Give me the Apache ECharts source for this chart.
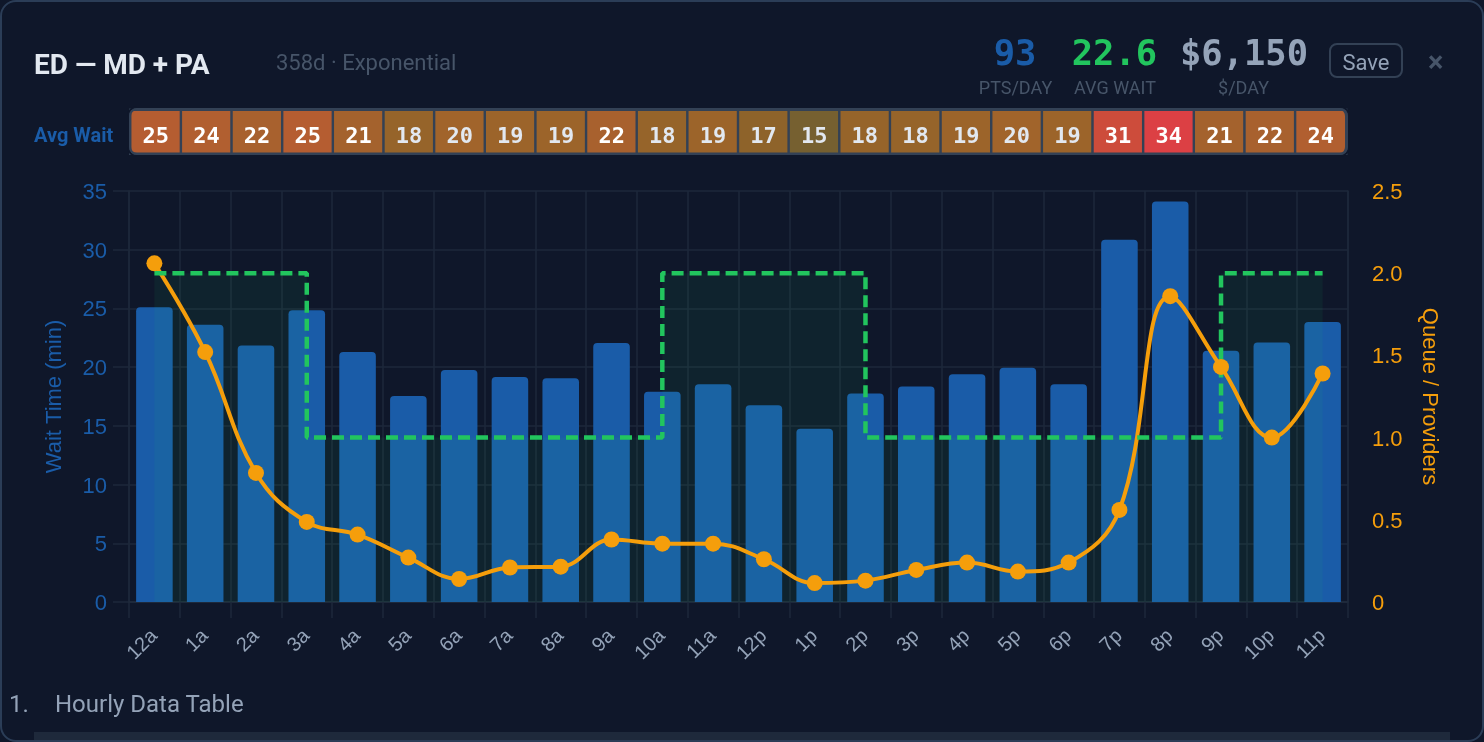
<!DOCTYPE html>
<html><head><meta charset="utf-8">
<script src="https://cdn.jsdelivr.net/npm/echarts@6/dist/echarts.min.js"></script>
<style>
html,body{margin:0;padding:0;width:1484px;height:742px;overflow:hidden;background:#0f172a;font-family:Roboto,sans-serif}
#card{position:absolute;left:0;top:0;width:1484px;height:742px;box-sizing:border-box;border:2px solid #2b3d57;border-radius:16px;pointer-events:none}
#chart{position:absolute;left:0;top:0;width:1484px;height:742px}
.t{position:absolute;white-space:nowrap;line-height:1}
.m{font-family:"DejaVu Sans Mono",monospace;font-weight:700;font-size:35.5px;transform:translateX(-50%)}
.l{font-size:18px;color:#475569;transform:translateX(-50%)}
#stripbg{position:absolute;left:129px;top:108px;width:1219px;height:47px;box-sizing:border-box;background:#334155;border-radius:8px}
#stripring{position:absolute;left:129px;top:108px;width:1219px;height:47px;box-sizing:border-box;border:2px solid #334155;border-right-width:3px;border-radius:8px;box-shadow:0 0 0 2px #0f172a}
#tbl{position:absolute;left:34px;top:732px;width:1416px;height:9px;background:#1e293b}
</style></head><body>
<div id="stripbg"></div>
<div id="chart"></div>
<div id="stripring"></div>
<div id="tbl"></div>
<div id="card"></div>
<div class="t" style="left:34px;top:51px;font-size:28px;font-weight:700;color:#e2e8f0">ED — MD + PA</div>
<div class="t" style="left:276px;top:52px;font-size:22px;color:#475569">358d · Exponential</div>
<div class="t" style="left:34px;top:125px;font-size:20px;font-weight:700;color:#1a5ca8">Avg Wait</div>
<div class="t m" style="left:1015px;top:35px;color:#1a5ca8">93</div>
<div class="t m" style="left:1114.5px;top:35px;color:#22c55e">22.6</div>
<div class="t m" style="left:1244px;top:35px;color:#94a3b8">$6,150</div>
<div class="t l" style="left:1015.5px;top:79px">PTS/DAY</div>
<div class="t l" style="left:1115px;top:79px">AVG WAIT</div>
<div class="t l" style="left:1243.5px;top:79px">$/DAY</div>
<div class="t" style="left:1329px;top:43px;width:74px;height:35px;box-sizing:border-box;border:2px solid #334155;border-radius:8px;color:#94a3b8;font-size:22px;line-height:35px;text-align:center">Save</div>
<div class="t" style="left:1428px;top:48px;font-size:29px;font-weight:700;color:#475569">×</div>
<div class="t" style="left:9px;top:692px;font-size:24px;color:#94a3b8">1.</div>
<div class="t" style="left:55px;top:692px;font-size:24px;color:#94a3b8">Hourly Data Table</div>
<script>
const hours = ['12a','1a','2a','3a','4a','5a','6a','7a','8a','9a','10a','11a','12p','1p','2p','3p','4p','5p','6p','7p','8p','9p','10p','11p'];
const waitMinutes = [25.1,23.6,21.85,24.85,21.3,17.55,19.75,19.15,19.05,22.05,17.9,18.55,16.75,14.75,17.75,18.35,19.4,19.95,18.55,30.85,34.1,21.4,22.1,23.85];
const queueRatio = [2.06,1.52,0.785,0.487,0.41,0.27,0.14,0.21,0.215,0.38,0.355,0.355,0.26,0.115,0.13,0.195,0.24,0.185,0.24,0.56,1.86,1.43,1.0,1.39];
const providers = [2,2,2,1,1,1,1,1,1,1,2,2,2,2,1,1,1,1,1,1,1,2,2,2];
const leftTicks = {min:0,max:35,interval:5};
const rightTicks = {min:0,max:2.5,interval:0.5};
const sans = '"Liberation Sans",Arial,sans-serif';
const mono = '"DejaVu Sans Mono",monospace';
const gridLine = {show:true,lineStyle:{color:'#1e293b',width:1.5}};
const chart = echarts.init(document.getElementById('chart'),null,{renderer:'canvas'});
chart.setOption({
  animation:false,
  backgroundColor:'transparent',
  grid:[
    {left:129,right:136,top:191,bottom:140},
    {left:130.5,width:1215.5,top:110,height:43.5}
  ],
  xAxis:[
    {type:'category',data:hours,gridIndex:0,boundaryGap:true,
     axisLine:{lineStyle:{color:'#1e293b',width:2}},
     axisTick:{show:true,length:16,alignWithLabel:false,lineStyle:{color:'#1e293b',width:1.5}},
     splitLine:gridLine,
     axisLabel:{color:'#94a3b8',fontSize:20,fontFamily:sans,rotate:45,margin:31,interval:0}},
    {type:'category',data:hours,gridIndex:1,show:false}
  ],
  yAxis:[
    {type:'value',gridIndex:0,...leftTicks,
     name:'Wait Time (min)',nameLocation:'middle',nameRotate:90,nameGap:63,
     nameTextStyle:{color:'#1a5ca8',fontSize:22,fontFamily:sans},
     axisLine:{show:true,lineStyle:{color:'#1e293b',width:1.5}},
     axisTick:{show:true,length:16,lineStyle:{color:'#1e293b',width:1.5}},
     splitLine:gridLine,
     axisLabel:{margin:22,formatter:v=>'{a|'+v+'}',
       rich:{a:{color:'#1a5ca8',fontSize:22,fontFamily:sans,padding:[4,0,0,0]}}}},
    {type:'value',gridIndex:0,position:'right',...rightTicks,
     name:'Queue / Providers',nameLocation:'middle',nameRotate:-90,nameGap:70,
     nameTextStyle:{color:'#f59e0b',fontSize:22,fontFamily:sans},
     axisLine:{show:true,lineStyle:{color:'#1e293b',width:1.5}},
     axisTick:{show:false},splitLine:{show:false},
     axisLabel:{margin:24,formatter:v=>'{a|'+(v===0?'0':v.toFixed(1))+'}',
       rich:{a:{color:'#f59e0b',fontSize:22,fontFamily:sans,padding:[4,0,0,0]}}}},
    {type:'category',data:['Avg Wait'],gridIndex:1,show:false}
  ],
  visualMap:{show:false,seriesIndex:3,dimension:2,min:15,max:34,
    inRange:{color:['#766030','#926429','#a0642b','#a8612e','#b45e31','#bb5a33','#c45238','#d04a3c','#dc4044']}},
  series:[
    {name:'Wait Time',type:'bar',xAxisIndex:0,yAxisIndex:0,data:waitMinutes,barWidth:'72%',
     itemStyle:{color:'#1a5ca8',borderRadius:[4,4,0,0]}},
    {name:'Queue',type:'line',xAxisIndex:0,yAxisIndex:1,data:queueRatio,smooth:0.4,
     symbol:'circle',symbolSize:16,showSymbol:true,
     lineStyle:{color:'#f59e0b',width:4},itemStyle:{color:'#f59e0b'}},
    {name:'Providers',type:'line',xAxisIndex:0,yAxisIndex:1,data:providers,step:'end',
     symbol:'none',lineStyle:{color:'#22c55e',width:4.5,type:[12,6]},
     areaStyle:{color:'rgba(34,197,94,0.1)'}},
    {name:'Avg Wait',type:'heatmap',xAxisIndex:1,yAxisIndex:2,
     data:waitMinutes.map((v,i)=>[i,0,Math.round(v)]),
     itemStyle:{borderColor:'#334155',borderWidth:2.4},
     label:{show:true,offset:[0,6],formatter:p=>{const v=p.value[2];return (v>20?'{hi|':'{lo|')+v+'}';},
       rich:{hi:{color:'#ffffff',fontSize:22,fontWeight:700,fontFamily:mono},
             lo:{color:'#e2e8f0',fontSize:22,fontWeight:700,fontFamily:mono}}}}
  ]
});
</script>
</body></html>
